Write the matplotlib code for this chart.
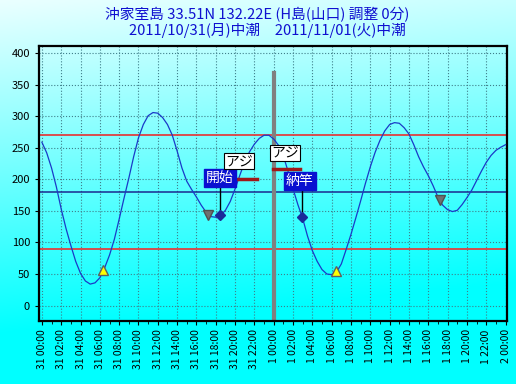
"""Tide chart for Okikamuro island, 2011/10/31 - 2011/11/01."""

import matplotlib

matplotlib.use("Agg")
import matplotlib.pyplot as plt
import numpy as np

plt.rcParams["font.family"] = ["Noto Sans CJK JP", "DejaVu Sans"]

TITLE_1 = "沖家室島 33.51N 132.22E (H島(山口) 調整 0分)"
TITLE_2 = "2011/10/31(月)中潮　2011/11/01(火)中潮"

# tide level (cm) every 30 minutes from 31 00:00 to 2 00:00
hours = [i * 0.5 for i in range(97)]
tide = [259, 242, 218, 188, 153, 122, 95, 70, 51, 39,
        34, 36, 44, 60, 80, 105, 137, 170, 202, 236,
        266, 287, 301, 306, 305, 298, 287, 270, 245, 218,
        197, 184, 172, 159, 148, 141, 140, 143, 151, 165,
        185, 207, 228, 244, 256, 265, 270, 270, 264, 254,
        237, 212, 185, 160, 138, 110, 87, 70, 57, 50,
        49, 53, 66, 89, 113, 139, 166, 194, 220, 243,
        262, 277, 287, 290, 289, 282, 272, 255, 236, 220,
        206, 190, 172, 159, 152, 149, 151, 160, 171, 183,
        198, 213, 227, 238, 246, 251, 255]

tick_hours = list(range(0, 49, 2))
tick_labels = [f"31 {h:02d}:00" for h in range(0, 24, 2)] + \
              [f"1 {h:02d}:00" for h in range(0, 24, 2)] + ["2 00:00"]

# reference levels
red_levels = [270, 90]
blue_level = 180

# markers: low tide (yellow up), gray down, fishing events (diamond)
yellow_x, yellow_y = [6.3, 30.4], [57, 54]
gray_x, gray_y = [17.2, 41.2], [143, 167]
event_x, event_y = [18.4, 26.9], [143.5, 140]
event_labels = ["開始", "納竿"]
catch_label = "アジ"
catch_start = [18.4, 23.9]
catch_end = [22.3, 26.75]
catch_level = [201, 216]

W, H = 516, 384
fig = plt.figure(figsize=(W / 100, H / 100), dpi=100)

# gradient background
bg = fig.add_axes([0, 0, 1, 1], zorder=-10)
yy, xx = np.mgrid[0:1:200j, 0:1:200j]
t = np.clip(yy * 1.15 + xx * 0.15, 0, 1)
top = np.array([0.92, 1.0, 1.0])
bot = np.array([0.0, 1.0, 1.0])
img = top[None, None, :] * (1 - t[..., None]) + bot[None, None, :] * t[..., None]
bg.imshow(img, aspect="auto", extent=[0, 1, 0, 1], origin="upper")
bg.axis("off")

ax = fig.add_axes([39 / W, (H - 321) / H, (507 - 39) / W, (321 - 46) / H])
ax.patch.set_alpha(0)
ax.set_xlim(-0.3, 48.15)
ax.set_ylim(-24.5, 411.5)

ax.set_yticks(range(0, 401, 50))
ax.set_xticks(tick_hours)
ax.set_xticklabels(tick_labels, rotation=90, fontsize=7.5)
ax.set_xticks(range(49), minor=True)
ax.tick_params(axis="y", labelsize=8, length=3)
ax.tick_params(axis="x", which="major", length=3, pad=3)
ax.tick_params(axis="x", which="minor", length=2)
ax.grid(True, which="major", linestyle=":", color="#3f7f8a", linewidth=0.8)
ax.set_axisbelow(True)
for sp in ax.spines.values():
    sp.set_linewidth(1.6)

for lv in red_levels:
    ax.axhline(lv, color="#e04040", linewidth=1.3, zorder=2)
ax.axhline(blue_level, color="#1a2a90", linewidth=1.1, zorder=2)

ax.plot([24, 24], [-24.5, 368], color="#808080", linewidth=3, zorder=2)

ax.plot(hours, tide, color="#1a3ac8", linewidth=0.9, zorder=3)

ax.plot(yellow_x, yellow_y, "^", color="#ffff00", markeredgecolor="#606060",
        markersize=7, zorder=5)
ax.plot(gray_x, gray_y, "v", color="#707070", markeredgecolor="#505050",
        markersize=7, zorder=5)
ax.plot(event_x, event_y, "D", color="#1a2a9a", markersize=5, zorder=5)

# event labels with stems
label_pos = [(18.4, 202), (26.7, 197)]
for (lx, ly), ex, ey, txt in zip(label_pos, event_x, event_y, event_labels):
    ax.plot([ex, ex], [ey, ly], color="black", linewidth=1, zorder=4)
    ax.text(lx, ly, txt, ha="center", va="center", color="white", fontsize=10,
            zorder=7, bbox=dict(boxstyle="square,pad=0.15", fc="#0a10d0", ec="#0a10d0"))

# catch bars with labels
catch_text_pos = [(20.4, 229), (25.15, 242)]
for x0, x1, lv, (tx, ty) in zip(catch_start, catch_end, catch_level, catch_text_pos):
    ax.plot([x0, x1], [lv, lv], color="#a01818", linewidth=2.5, zorder=6)
    ax.text(tx, ty, catch_label, ha="center", va="center", color="black", fontsize=10,
            zorder=7, bbox=dict(boxstyle="square,pad=0.1", fc="white", ec="black", lw=0.8))

fig.text(257 / W, 1 - 15 / H, TITLE_1, ha="center", va="center",
         color="#1010d0", fontsize=10.6)
fig.text(267 / W, 1 - 31 / H, TITLE_2, ha="center", va="center",
         color="#1010d0", fontsize=10.6)

fig.savefig("out.png", dpi=100)
plt.close(fig)
